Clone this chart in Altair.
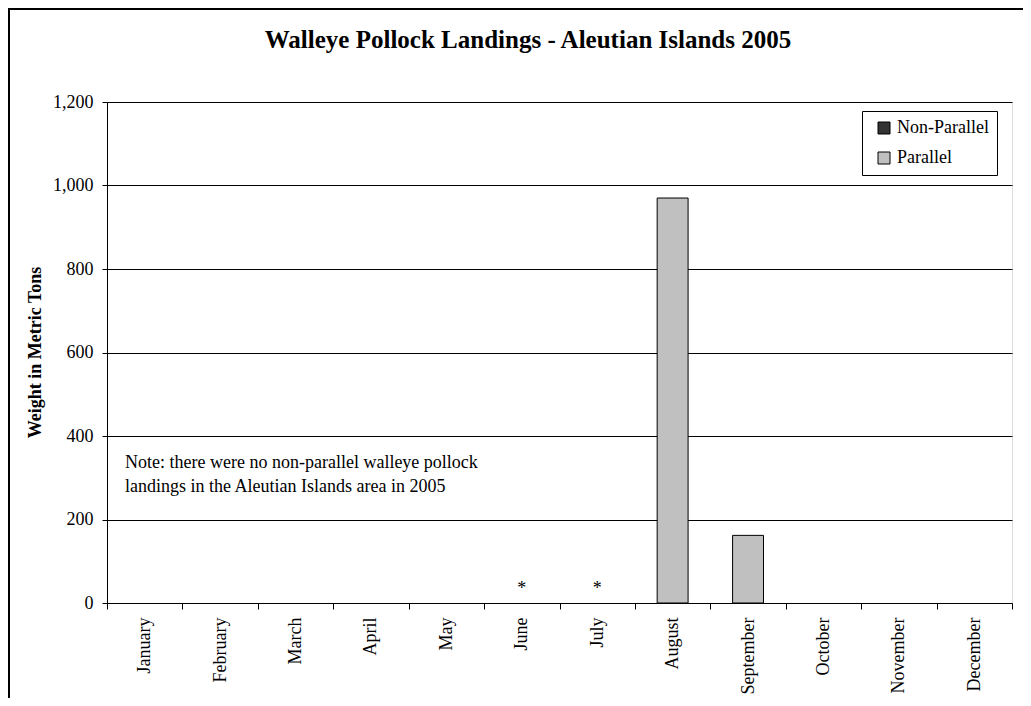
import altair as alt
import pandas as pd

months = ["January", "February", "March", "April", "May", "June", "July",
          "August", "September", "October", "November", "December"]
non_parallel = [0, 0, 0, 0, 0, 0, 0, 0, 0, 0, 0, 0]
parallel = [0, 0, 0, 0, 0, None, None, 970, 162, 0, 0, 0]
confidential = ["June", "July"]
series = ["Non-Parallel", "Parallel"]
series_colors = ["#333333", "#c0c0c0"]
y_ticks = [0, 200, 400, 600, 800, 1000, 1200]
note_lines = ["Note: there were no non-parallel walleye pollock",
              "landings in the Aleutian Islands area in 2005"]
chart_title = "Walleye Pollock Landings - Aleutian Islands 2005"
y_title = "Weight in Metric Tons"

rows = []
for m, v in zip(months, non_parallel):
    rows.append({"month": m, "series": "Non-Parallel", "tons": v})
for m, v in zip(months, parallel):
    rows.append({"month": m, "series": "Parallel", "tons": v})
df = pd.DataFrame(rows)
conf_df = pd.DataFrame({"month": confidential, "mark": ["*"] * len(confidential)})

FONT = "Liberation Serif"
W, H = 905, 501

x_enc = alt.X(
    "month:N", sort=months,
    scale=alt.Scale(domain=months, paddingInner=0, paddingOuter=0),
    axis=alt.Axis(title=None, labelAngle=270, labelAlign="right", labelBaseline="middle",
                  labelPadding=8, tickSize=6, tickBand="extent", domainColor="black",
                  tickColor="black", labelFontSize=18, labelFont=FONT, labelColor="black",
                  grid=False),
)
y_scale = alt.Scale(domain=[0, 1200], nice=False)

bars = alt.Chart(df).transform_filter("datum.tons > 0").mark_bar(
    width=alt.RelativeBandSize(0.41), stroke="black", strokeWidth=1
).encode(
    x=x_enc,
    y=alt.Y("sum(tons):Q", scale=y_scale,
            axis=alt.Axis(values=y_ticks, format=",d", title=y_title, grid=True,
                          gridColor="black", gridWidth=1, tickSize=5, labelPadding=9,
                          domainColor="black", tickColor="black", labelFontSize=18,
                          labelFont=FONT, labelColor="black", titleFont=FONT,
                          titleFontSize=18, titleFontWeight="bold", titleColor="black",
                          titleAngle=270, titleX=-72, titleY=250, titleAlign="center",
                          titleBaseline="middle")),
    color=alt.Color("series:N",
                    scale=alt.Scale(domain=series, range=series_colors),
                    legend=alt.Legend(title=None, orient="none", legendX=755, legendY=9,
                                      symbolType="square", symbolSize=144,
                                      symbolStrokeColor="black", symbolStrokeWidth=1,
                                      labelFont=FONT, labelFontSize=18, labelColor="black",
                                      labelOffset=4, symbolOffset=5, rowPadding=12,
                                      padding=8, strokeColor="black", fillColor="white",
                                      cornerRadius=0)),
)

stars = alt.Chart(conf_df).mark_text(
    font=FONT, fontSize=18, baseline="middle", dy=-14, color="black"
).encode(
    x=alt.X("month:N", sort=months),
    y=alt.YDatum(0),
    text="mark:N",
)

note = alt.Chart(pd.DataFrame({"a": [0]})).mark_text(
    align="left", baseline="top", lineHeight=24, font=FONT, fontSize=18, color="black"
).encode(
    x=alt.value(18), y=alt.value(352), text=alt.value(note_lines)
)

title = alt.Chart(pd.DataFrame({"a": [0]})).mark_text(
    align="center", baseline="middle", font=FONT, fontSize=25, fontWeight="bold",
    color="black"
).encode(
    x=alt.value(421), y=alt.value(-62), text=alt.value(chart_title)
)

frame = alt.Chart(pd.DataFrame({"a": [0]})).mark_rect(
    fill=None, stroke="black", strokeWidth=2
).encode(
    x=alt.value(-98), y=alt.value(-93), x2=alt.value(1200), y2=alt.value(900)
)

chart = alt.layer(frame, bars, stars, note, title).properties(
    width=W, height=H,
    autosize=alt.AutoSizeParams(type="none"),
    padding={"left": 99, "top": 94, "right": 11, "bottom": 95},
).configure_view(stroke="black", strokeWidth=1).configure(background="white")

chart.save("out.html", embed_options={"renderer": "svg", "actions": False})
